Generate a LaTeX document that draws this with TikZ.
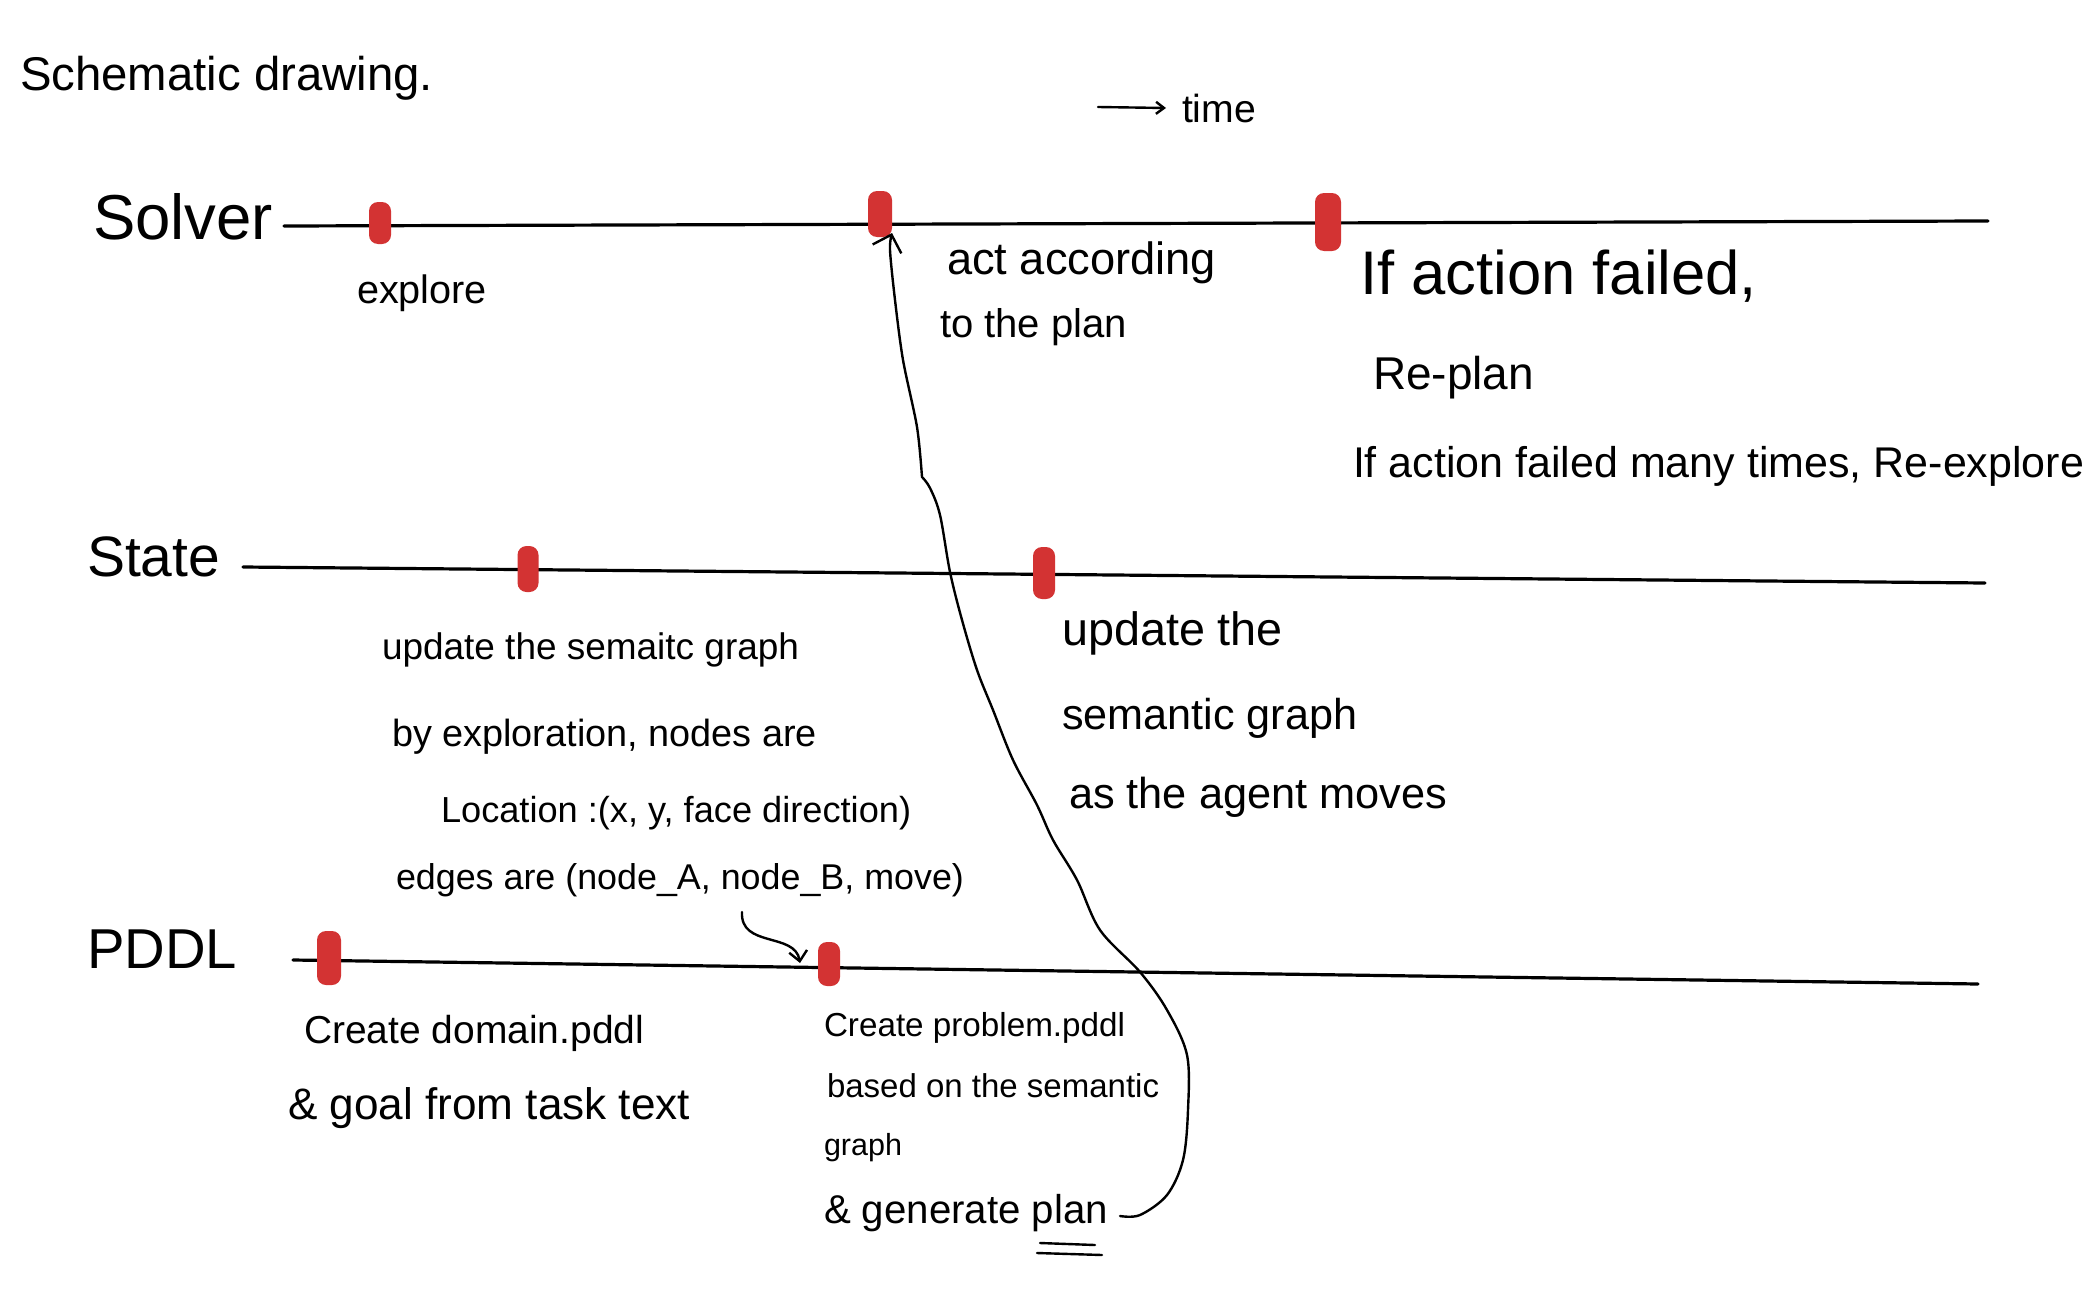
\documentclass[tikz,border=0pt]{standalone}
\usepackage{fontspec}
\setmainfont{Liberation Sans}
\usetikzlibrary{arrows.meta,calc}
\definecolor{markred}{HTML}{D33333}
\newcommand{\hw}[2]{\resizebox{#1}{!}{#2}}
\begin{document}
\begin{tikzpicture}[x=1pt,y=-1pt,
  txt/.style={anchor=west,inner sep=0pt,outer sep=0pt},
  tline/.style={line width=3.2pt,line cap=round},
  redmark/.style={fill=markred,draw=none,rounded corners=9pt,inner sep=0pt,outer sep=0pt},
  ink/.style={line width=2.4pt,line cap=round,line join=round},
]
\useasboundingbox[fill=white] (0,0) rectangle (2090,1290);

% title and time arrow
\node[txt] (title) at (20,78) {\hw{413pt}{Schematic drawing.}};
\node[txt] (time) at (1182,108) {\hw{74pt}{time}};
\coordinate (tstart) at (1098,107);
\draw[ink,-{Straight Barb[length=8pt,width=12pt]}] (tstart) -- ([xshift=-16pt]time.west);

% row labels
\node[txt] (solver) at (93,217) {\hw{180pt}{Solver}};
\node[txt] (state) at (87,557) {\hw{133pt}{State}};
\node[txt] (pddl) at (87,949) {\hw{150pt}{PDDL}};

% timelines
\coordinate (sl0) at (284,226); \coordinate (sl1) at (1988,221);
\coordinate (tl0) at (243,567); \coordinate (tl1) at (1985,583);
\coordinate (pl0) at (293,960); \coordinate (pl1) at (1978,984);
\draw[tline] (sl0) -- (sl1);
\draw[tline] (tl0) -- (tl1);
\draw[tline] (pl0) -- (pl1);

% red marks
\node[redmark,minimum width=22pt,minimum height=42pt] (m1) at (380,223) {};
\node[redmark,minimum width=24pt,minimum height=46pt] (m2) at (880,214) {};
\node[redmark,minimum width=26pt,minimum height=58pt] (m3) at (1328,222) {};
\node[redmark,minimum width=21pt,minimum height=46pt] (s1) at (528,569) {};
\node[redmark,minimum width=22pt,minimum height=52pt] (s2) at (1044,573) {};
\node[redmark,minimum width=24pt,minimum height=54pt] (p1) at (329,958) {};
\node[redmark,minimum width=22pt,minimum height=44pt] (p2) at (829,964) {};

% Solver texts
\node[txt] (explore) at (357,293) {\hw{130pt}{explore}};
\node[txt] (act1) at (947,263) {\hw{269pt}{act according}};
\node[txt] (act2) at (940,327) {\hw{187pt}{to the plan}};
\node[txt] (fail1) at (1360,276) {\hw{397pt}{If action failed,}};
\node[txt] (fail2) at (1373,378) {\hw{161pt}{Re-plan}};
\node[txt] (fail3) at (1353,466) {\hw{731pt}{If action failed many times, Re-explore}};

% State texts
\node[txt] (up1) at (382,650) {\hw{417pt}{update the semaitc graph}};
\node[txt] (up2) at (392,737) {\hw{425pt}{by exploration, nodes are}};
\node[txt] (up3) at (441,813) {\hw{470pt}{Location :(x, y, face direction)}};
\node[txt] (up4) at (396,880) {\hw{568pt}{edges are (node\_A, node\_B, move)}};
\node[txt] (ua1) at (1062,633) {\hw{221pt}{update the}};
\node[txt] (ua2) at (1062,718) {\hw{295pt}{semantic graph}};
\node[txt] (ua3) at (1069,797) {\hw{378pt}{as the agent moves}};

% PDDL texts
\node[txt] (dom1) at (304,1033) {\hw{340pt}{Create domain.pddl}};
\node[txt] (dom2) at (288,1108) {\hw{402pt}{\& goal from task text}};
\node[txt] (pr1) at (824,1028) {\hw{301pt}{Create problem.pddl}};
\node[txt] (pr2) at (827,1086) {\hw{332pt}{based on the semantic}};
\node[txt] (pr3) at (824,1148) {\hw{78pt}{graph}};
\node[txt] (pr4) at (824,1213) {\hw{284pt}{\& generate plan}};

% double underline under "plan"
\draw[ink] (1040,1243) -- (1095,1245);
\draw[ink] (1037,1253) -- (1102,1255);

% small arrow from edges text to problem mark
\coordinate (ea) at (742,912);
\coordinate (eb) at ([xshift=-29pt,yshift=1pt]p2.center);
\draw[ink,-{Straight Barb[length=10pt,width=18pt]}] (ea) .. controls (740,948) and (795,932) .. (eb);

% long arrow from plan back to the solver mark
\coordinate (planend) at (1120,1216);
\coordinate (kink) at (922,477);
\coordinate (m2tip) at ([xshift=12pt,yshift=4pt]m2.south);
\draw[ink,-{Straight Barb[length=15pt,width=30pt]}] plot[smooth,tension=0.55] coordinates {
  (planend) (1140,1215) (1167,1195) (1183,1160) (1188,1110) (1187,1055)
  (1167,1010) (1140,972) (1100,930) (1077,880) (1053,840) (1037,805)
  (1013,760) (993,710) (977,670) (962,620) (950,572) (940,515) (930,488) (kink)}
  -- plot[smooth,tension=0.5] coordinates {(kink)
  (917,427) (903,360) (895,300) (890,250) (m2tip)};
\end{tikzpicture}
\end{document}
